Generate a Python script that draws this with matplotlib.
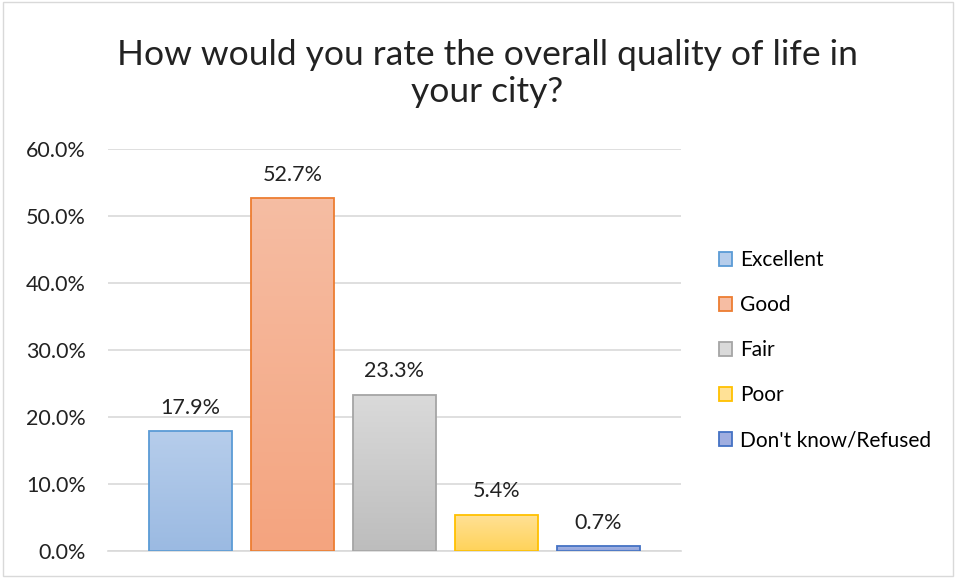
import numpy as np
import matplotlib.pyplot as plt
from matplotlib.patches import Patch, Rectangle
from matplotlib.ticker import FuncFormatter
from matplotlib.colors import LinearSegmentedColormap

plt.rcParams['font.family'] = ['Lato', 'DejaVu Sans']

# data
categories = ['Excellent', 'Good', 'Fair', 'Poor', "Don't know/Refused"]
values = [17.9, 52.7, 23.3, 5.4, 0.7]
# fill gradient (top, bottom) and outline per bar
tops = ['#b6cdeb', '#f6bda3', '#dadada', '#ffe196', '#a7b5e3']
bottoms = ['#9bbae2', '#f4a47f', '#bdbdbd', '#ffd35a', '#8fa3dc']
edges = ['#5b9bd5', '#ed7d31', '#a5a5a5', '#ffc000', '#4472c4']

fig = plt.figure(figsize=(9.56, 5.78), dpi=100)
ax = fig.add_axes([0.113, 0.0467, 0.599, 0.6955])

x = np.arange(len(categories))
w = 0.814
bars = ax.bar(x, values, width=w, color='none', edgecolor=edges, linewidth=1.3, zorder=3)
for b, t, bt in zip(bars, tops, bottoms):
    cmap = LinearSegmentedColormap.from_list('g', [bt, t])
    grad = np.linspace(0, 1, 100).reshape(-1, 1)
    bx, by = b.get_x(), b.get_y()
    im = ax.imshow(grad, cmap=cmap, aspect='auto', origin='lower',
                   extent=[bx, bx + b.get_width(), by, by + b.get_height()], zorder=2)
    im.set_clip_path(b)
    b.set_facecolor('none')

for xi, v in zip(x, values):
    ax.text(xi, v + 2.0, f'{v:.1f}%', ha='center', va='bottom', fontsize=15.5, color='#222222')

ax.set_xlim(-0.809, 4.809)
ax.set_ylim(0, 60)
ax.set_yticks(np.arange(0, 61, 10))
ax.yaxis.set_major_formatter(FuncFormatter(lambda v, p: f'{v:.1f}%'))
ax.set_xticks([])
ax.grid(axis='y', color='#d9d9d9', linewidth=1.2, zorder=0)
ax.tick_params(axis='y', length=0, labelsize=15.5, labelcolor='#222222', pad=16)
for s in ['top', 'right', 'left']:
    ax.spines[s].set_visible(False)
ax.spines['bottom'].set_color('#d9d9d9')
ax.spines['bottom'].set_linewidth(1.2)

handles = [Patch(facecolor=(t if i != 4 else '#a0aee0'), edgecolor=e, linewidth=1.3, label=c)
           for i, (t, e, c) in enumerate(zip(tops, edges, categories))]
fig.legend(handles=handles, loc='center left', bbox_to_anchor=(0.733, 0.394),
           frameon=False, fontsize=15, handlelength=0.6, handleheight=0.6,
           handletextpad=0.4, labelspacing=1.2)

fig.text(0.51, 0.873, 'How would you rate the overall quality of life in\nyour city?',
         ha='center', va='center', fontsize=25.5, color='#222222', linespacing=1.2)

fig.patches.append(Rectangle((0.003, 0.003), 0.994, 0.994, transform=fig.transFigure,
                             fill=False, edgecolor='#d9d9d9', linewidth=1))

fig.savefig('out.png', dpi=100)
